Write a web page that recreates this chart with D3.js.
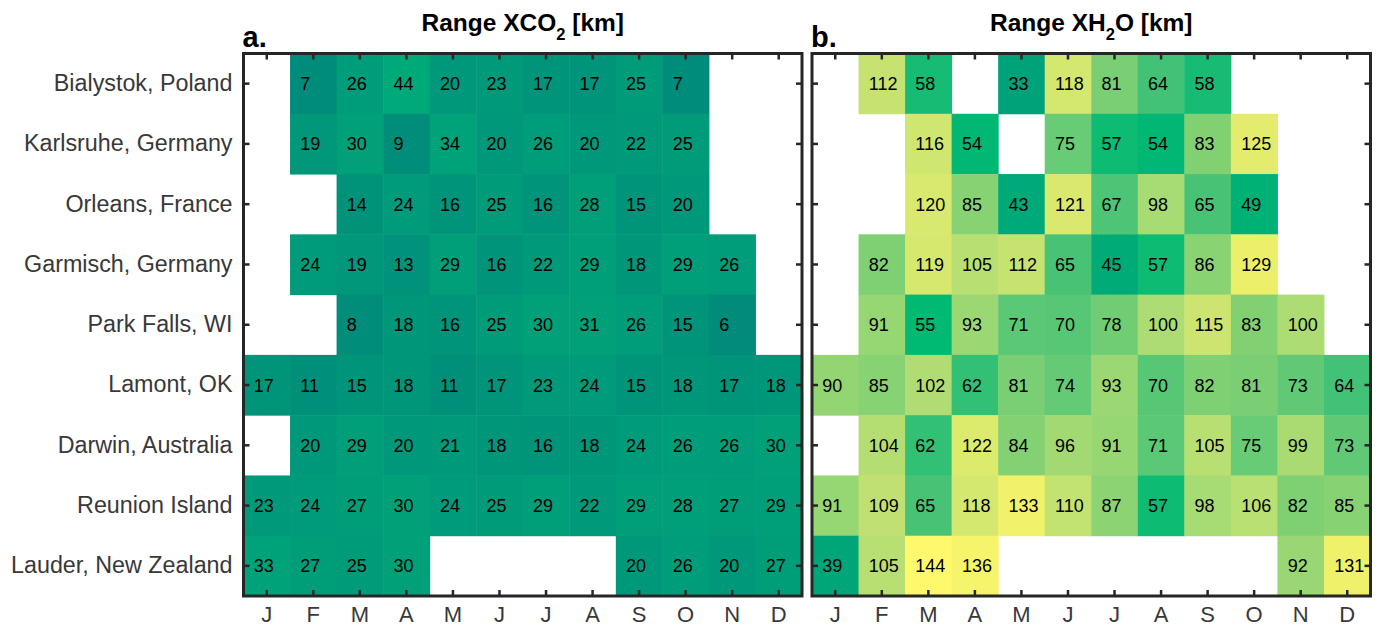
<!DOCTYPE html>
<html>
<head>
<meta charset="utf-8">
<script src="https://cdn.jsdelivr.net/npm/d3@7"></script>
<style>
  body { margin: 0; background: #fff; }
  svg { display: block; font-family: "Liberation Sans", Arial, Helvetica, sans-serif; }
</style>
</head>
<body>
<div id="chart"></div>
<script>
// sites top to bottom, months left to right
var sites = ["Bialystok, Poland", "Karlsruhe, Germany", "Orleans, France", "Garmisch, Germany",
  "Park Falls, WI", "Lamont, OK", "Darwin, Australia", "Reunion Island", "Lauder, New Zealand"];
var months = ["J", "F", "M", "A", "M", "J", "J", "A", "S", "O", "N", "D"];

// range in km, null = no data
var rangeXCO2 = [
  [null, 7, 26, 44, 20, 23, 17, 17, 25, 7, null, null],
  [null, 19, 30, 9, 34, 20, 26, 20, 22, 25, null, null],
  [null, null, 14, 24, 16, 25, 16, 28, 15, 20, null, null],
  [null, 24, 19, 13, 29, 16, 22, 29, 18, 29, 26, null],
  [null, null, 8, 18, 16, 25, 30, 31, 26, 15, 6, null],
  [17, 11, 15, 18, 11, 17, 23, 24, 15, 18, 17, 18],
  [null, 20, 29, 20, 21, 18, 16, 18, 24, 26, 26, 30],
  [23, 24, 27, 30, 24, 25, 29, 22, 29, 28, 27, 29],
  [33, 27, 25, 30, null, null, null, null, 20, 26, 20, 27]
];
var rangeXH2O = [
  [null, 112, 58, null, 33, 118, 81, 64, 58, null, null, null],
  [null, null, 116, 54, null, 75, 57, 54, 83, 125, null, null],
  [null, null, 120, 85, 43, 121, 67, 98, 65, 49, null, null],
  [null, 82, 119, 105, 112, 65, 45, 57, 86, 129, null, null],
  [null, 91, 55, 93, 71, 70, 78, 100, 115, 83, 100, null],
  [90, 85, 102, 62, 81, 74, 93, 70, 82, 81, 73, 64],
  [null, 104, 62, 122, 84, 96, 91, 71, 105, 75, 99, 73],
  [91, 109, 65, 118, 133, 110, 87, 57, 98, 106, 82, 85],
  [39, 105, 144, 136, null, null, null, null, null, null, 92, 131]
];

var W = 1377, H = 627;
var plotTop = 53.5, plotBottom = 596;
var axisColor = "#262626";

// shared colour scale for both panels
var color = d3.scaleLinear()
  .domain([0, 20, 44, 55, 65, 85, 100, 115, 130, 145])
  .range(["rgb(0,134,122)", "rgb(0,152,122)", "rgb(0,170,120)", "rgb(0,185,114)",
          "rgb(72,195,118)", "rgb(135,210,115)", "rgb(172,220,115)", "rgb(205,229,112)",
          "rgb(238,240,106)", "rgb(255,250,108)"])
  .clamp(true);

var svg = d3.select("#chart").append("svg")
  .attr("width", W)
  .attr("height", H);

svg.append("rect").attr("width", W).attr("height", H).attr("fill", "#fff");

function drawPanel(values, x0, x1, letter, titleMain, titleSub, titleEnd, showLabels) {
  var x = d3.scaleBand().domain(d3.range(months.length)).range([x0, x1]);
  var y = d3.scaleBand().domain(d3.range(sites.length)).range([plotTop, plotBottom]);
  var g = svg.append("g");

  var cells = [];
  values.forEach(function(row, r) {
    row.forEach(function(v, c) {
      if (v !== null) cells.push({ r: r, c: c, v: v });
    });
  });

  g.selectAll("rect.cell").data(cells).enter().append("rect")
    .attr("class", "cell")
    .attr("x", function(d) { return x(d.c); })
    .attr("y", function(d) { return y(d.r); })
    .attr("width", x.bandwidth() + 0.5)
    .attr("height", y.bandwidth() + 0.5)
    .attr("fill", function(d) { return color(d.v); });

  g.selectAll("text.val").data(cells).enter().append("text")
    .attr("class", "val")
    .attr("x", function(d) { return x(d.c) + x.bandwidth() / 2 - 13; })
    .attr("y", function(d) { return y(d.r) + y.bandwidth() / 2; })
    .attr("dy", "0.36em")
    .attr("font-size", 18)
    .attr("fill", "#000")
    .text(function(d) { return d.v; });

  // ticks point inward on all four sides
  var xb = d3.axisBottom(x).tickSize(-6).tickPadding(10).tickFormat(function(i) { return months[i]; });
  var xt = d3.axisTop(x).tickSize(-6).tickFormat("");
  var yl = d3.axisLeft(y).tickSize(-6).tickPadding(11)
    .tickFormat(function(i) { return showLabels ? sites[i] : ""; });
  var yr = d3.axisRight(y).tickSize(-6).tickFormat("");

  [[xb, "translate(0," + plotBottom + ")", 22], [xt, "translate(0," + plotTop + ")", 22],
   [yl, "translate(" + x0 + ",0)", 23.3], [yr, "translate(" + x1 + ",0)", 22]].forEach(function(a) {
    var ax = g.append("g").attr("transform", a[1]).call(a[0]);
    ax.select(".domain").remove();
    ax.selectAll("line").attr("stroke", axisColor).attr("stroke-width", 2.5);
    ax.selectAll("text").attr("fill", "#383838").attr("font-size", a[2])
      .attr("font-family", "Liberation Sans, Arial, Helvetica, sans-serif");
  });

  g.append("rect")
    .attr("x", x0).attr("y", plotTop)
    .attr("width", x1 - x0).attr("height", plotBottom - plotTop)
    .attr("fill", "none")
    .attr("stroke", axisColor)
    .attr("stroke-width", 3);

  var title = g.append("text")
    .attr("x", (x0 + x1) / 2)
    .attr("y", 31)
    .attr("text-anchor", "middle")
    .attr("font-size", 24.5)
    .attr("font-weight", "bold")
    .attr("fill", "#000");
  title.append("tspan").text(titleMain);
  title.append("tspan").attr("dy", 9).attr("font-size", 16.5).text(titleSub);
  title.append("tspan").attr("dy", -9).text(titleEnd);

  g.append("text")
    .attr("x", x0 - 1)
    .attr("y", 47)
    .attr("font-size", 29)
    .attr("font-weight", "bold")
    .attr("fill", "#000")
    .text(letter);
}

drawPanel(rangeXCO2, 243.5, 802, "a.", "Range XCO", "2", " [km]", true);
drawPanel(rangeXH2O, 812, 1370.5, "b.", "Range XH", "2", "O [km]", false);
</script>
</body>
</html>
